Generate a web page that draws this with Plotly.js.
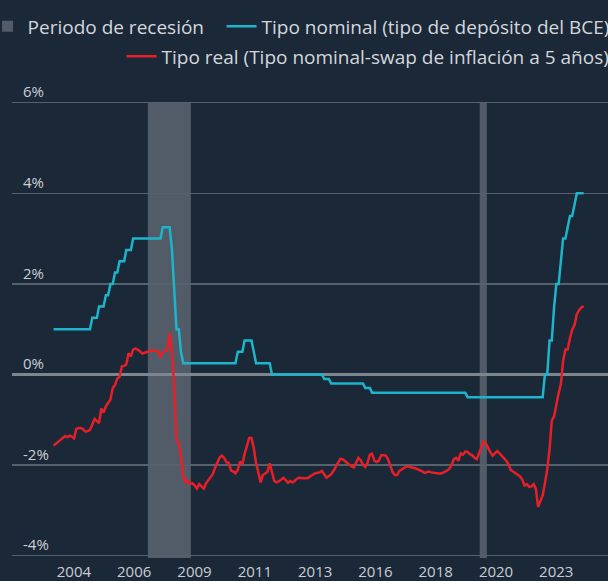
<!DOCTYPE html>
<html><head><meta charset="utf-8">
<script src="https://cdn.plot.ly/plotly-3.0.1.min.js"></script>
<style>html,body{margin:0;padding:0;background:#1b2838;}</style>
</head><body><div id="chart" style="width:608px;height:581px;"></div>
<script>
// Monthly series, first value = July 2004
const firstMonth = {year: 2004, month: 7};

// Tipo nominal (tipo de depósito del BCE), % — monthly
const nominalRate = [
  1.00,1.00,1.00,1.00,1.00,1.00,1.00,1.00,1.00,1.00,1.00,1.00,
  1.00,1.00,1.00,1.00,1.00,1.25,1.25,1.25,1.50,1.50,1.50,1.75,
  1.75,2.00,2.00,2.25,2.25,2.50,2.50,2.50,2.75,2.75,2.75,3.00,
  3.00,3.00,3.00,3.00,3.00,3.00,3.00,3.00,3.00,3.00,3.00,3.00,
  3.25,3.25,3.25,3.25,2.75,2.00,1.00,1.00,0.50,0.25,0.25,0.25,
  0.25,0.25,0.25,0.25,0.25,0.25,0.25,0.25,0.25,0.25,0.25,0.25,
  0.25,0.25,0.25,0.25,0.25,0.25,0.25,0.25,0.25,0.50,0.50,0.50,
  0.75,0.75,0.75,0.75,0.50,0.25,0.25,0.25,0.25,0.25,0.25,0.25,
  0.00,0.00,0.00,0.00,0.00,0.00,0.00,0.00,0.00,0.00,0.00,0.00,
  0.00,0.00,0.00,0.00,0.00,0.00,0.00,0.00,0.00,0.00,0.00,-0.10,
  -0.10,-0.10,-0.20,-0.20,-0.20,-0.20,-0.20,-0.20,-0.20,-0.20,-0.20,-0.20,
  -0.20,-0.20,-0.20,-0.20,-0.20,-0.30,-0.30,-0.30,-0.40,-0.40,-0.40,-0.40,
  -0.40,-0.40,-0.40,-0.40,-0.40,-0.40,-0.40,-0.40,-0.40,-0.40,-0.40,-0.40,
  -0.40,-0.40,-0.40,-0.40,-0.40,-0.40,-0.40,-0.40,-0.40,-0.40,-0.40,-0.40,
  -0.40,-0.40,-0.40,-0.40,-0.40,-0.40,-0.40,-0.40,-0.40,-0.40,-0.40,-0.40,
  -0.40,-0.40,-0.50,-0.50,-0.50,-0.50,-0.50,-0.50,-0.50,-0.50,-0.50,-0.50,
  -0.50,-0.50,-0.50,-0.50,-0.50,-0.50,-0.50,-0.50,-0.50,-0.50,-0.50,-0.50,
  -0.50,-0.50,-0.50,-0.50,-0.50,-0.50,-0.50,-0.50,-0.50,-0.50,-0.50,-0.50,
  0.00,0.00,0.75,0.75,1.50,2.00,2.00,2.50,3.00,3.00,3.25,3.50,
  3.50,3.75,4.00,4.00,4.00,4.00
];

// Tipo real (tipo nominal - swap de inflación a 5 años), % — monthly
const realRate = [
  -1.57,-1.53,-1.49,-1.45,-1.41,-1.36,-1.38,-1.35,-1.37,-1.41,-1.20,-1.18,
  -1.18,-1.21,-1.26,-1.25,-1.22,-1.10,-0.98,-1.03,-1.07,-0.75,-0.84,-0.70,
  -0.63,-0.55,-0.30,-0.23,-0.09,-0.05,0.18,0.19,0.22,0.47,0.40,0.55,
  0.57,0.55,0.51,0.46,0.48,0.50,0.52,0.53,0.53,0.53,0.50,0.38,
  0.48,0.53,0.54,0.91,0.50,-0.25,-1.45,-1.52,-1.80,-2.25,-2.38,-2.33,
  -2.41,-2.40,-2.45,-2.52,-2.42,-2.48,-2.52,-2.40,-2.33,-2.27,-2.20,-2.06,
  -1.95,-1.83,-1.79,-1.84,-1.94,-1.95,-2.12,-2.14,-2.18,-2.10,-1.92,-1.98,
  -1.75,-1.56,-1.40,-1.40,-1.62,-1.95,-2.20,-2.38,-2.22,-2.18,-2.15,-1.96,
  -2.18,-2.35,-2.38,-2.36,-2.32,-2.28,-2.33,-2.39,-2.35,-2.38,-2.35,-2.30,
  -2.28,-2.29,-2.29,-2.29,-2.28,-2.24,-2.20,-2.18,-2.17,-2.16,-2.13,-2.20,
  -2.28,-2.24,-2.20,-2.13,-2.04,-1.95,-1.86,-1.87,-1.91,-1.95,-1.99,-2.03,
  -2.05,-1.95,-1.84,-1.89,-1.99,-2.04,-1.95,-1.77,-1.75,-1.90,-1.93,-1.90,
  -1.78,-1.78,-1.79,-1.87,-2.02,-2.15,-2.22,-2.22,-2.13,-2.09,-2.05,-2.03,
  -2.03,-2.05,-2.06,-2.07,-2.09,-2.12,-2.14,-2.17,-2.15,-2.14,-2.16,-2.17,
  -2.17,-2.18,-2.19,-2.17,-2.15,-2.12,-2.08,-1.99,-1.87,-1.84,-1.90,-1.74,
  -1.77,-1.70,-1.71,-1.76,-1.78,-1.84,-1.87,-1.75,-1.60,-1.48,-1.52,-1.63,
  -1.72,-1.79,-1.74,-1.69,-1.74,-1.79,-1.86,-1.91,-1.98,-2.11,-2.14,-2.17,
  -2.21,-2.25,-2.32,-2.45,-2.42,-2.48,-2.47,-2.42,-2.52,-2.92,-2.80,-2.67,
  -2.40,-2.10,-1.65,-1.02,-0.92,-0.65,-0.41,-0.20,0.30,0.55,0.55,0.80,
  0.99,1.09,1.33,1.42,1.48,1.51
];

// Periodos de recesión
const recessionStart = ['2007-12-15', '2020-02-10'];
const recessionEnd   = ['2009-07-12', '2020-05-15'];

// Eje X: etiquetas tal como aparecen
const xTickVals = ['2005-03-30','2007-06-14','2009-08-30','2011-11-15','2014-01-30',
                   '2016-04-15','2018-06-30','2020-09-15','2022-11-30'];
const xTickText = ['2004','2006','2009','2011','2013','2016','2018','2020','2023'];
const xRange = ['2002-12-23', '2024-10-22'];

// Eje Y
const yTickVals = [-4, -2, 0, 2, 4, 6];
const yTickText = ['-4%', '-2%', '0%', '2%', '4%', '6%'];
const yRange = [-4.05, 6.5];

const names = {
  recession: 'Periodo de recesión',
  nominal: 'Tipo nominal (tipo de depósito del BCE)',
  real: 'Tipo real (Tipo nominal-swap de inflación a 5 años)'
};

const months = realRate.map((_, i) => {
  const d = new Date(Date.UTC(firstMonth.year, firstMonth.month - 1 + i, 1));
  return d.toISOString().slice(0, 10);
});

const BG = '#1b2838';
const TXT = '#d3d7dc';
const FONT = 'Open Sans, sans-serif';
const BAND = '#525c68';

const traces = [
  {
    x: [null], y: [null], type: 'scatter', mode: 'markers',
    name: names.recession, legend: 'legend', showlegend: true,
    marker: {symbol: 'square', size: 11, color: BAND},
    hoverinfo: 'skip'
  },
  {
    x: months, y: nominalRate, type: 'scatter', mode: 'lines',
    name: names.nominal, legend: 'legend3',
    line: {color: '#1db5c9', width: 2.5}
  },
  {
    x: months, y: realRate, type: 'scatter', mode: 'lines',
    name: names.real, legend: 'legend2',
    line: {color: '#e91f28', width: 2.5}
  }
];

const shapes = recessionStart.map((s, i) => ({
  type: 'rect', xref: 'x', yref: 'y', x0: s, x1: recessionEnd[i],
  y0: yRange[0], y1: yTickVals[yTickVals.length - 1],
  fillcolor: BAND, line: {width: 0}, layer: 'below'
}));

const legendBase = {
  orientation: 'h', yanchor: 'top', bgcolor: 'rgba(0,0,0,0)',
  font: {family: FONT, size: 19, color: TXT}
};

const layout = {
  width: 608, height: 581,
  paper_bgcolor: BG, plot_bgcolor: BG,
  margin: {l: 12, r: 0, t: 80, b: 23, autoexpand: false},
  font: {family: FONT, color: TXT, size: 19},
  showlegend: true,
  legend: Object.assign({}, legendBase, {x: -0.041, xanchor: 'left', y: 1.152}),
  legend3: Object.assign({}, legendBase, {x: 1.011, xanchor: 'right', y: 1.152}),
  legend2: Object.assign({}, legendBase, {x: 1.011, xanchor: 'right', y: 1.089}),
  xaxis: {
    type: 'date', range: xRange, tickvals: xTickVals, ticktext: xTickText,
    showgrid: false, zeroline: false, showline: false,
    ticks: 'outside', ticklen: 0, tickcolor: 'rgba(0,0,0,0)',
    tickfont: {family: FONT, size: 15, color: '#c9ced3'}, fixedrange: true
  },
  yaxis: {
    range: yRange, tickvals: yTickVals, ticktext: yTickText,
    ticklabelposition: 'inside top', ticklabelstandoff: 8,
    showgrid: true, gridcolor: '#56616c', gridwidth: 1.5,
    zeroline: true, zerolinecolor: '#7d858e', zerolinewidth: 2.5,
    showline: false, ticks: '',
    tickfont: {family: FONT, size: 15, color: '#c9ced3'}, fixedrange: true
  },
  shapes: shapes
};

Plotly.newPlot('chart', traces, layout, {displayModeBar: false, staticPlot: true});
</script>
</body></html>
